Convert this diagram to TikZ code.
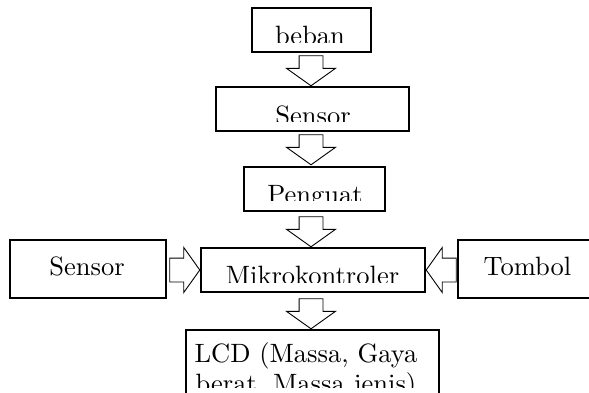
\documentclass[tikz,border=0pt]{standalone}
\usepackage{fontspec}
\newfontfamily\boxfont{lmroman10-regular.otf}
\usetikzlibrary{shapes.arrows}
\usetikzlibrary{positioning}
\begin{document}
\begin{tikzpicture}[x=1pt, y=-1pt,
  box/.style={draw, line width=1.3pt, inner sep=0pt, minimum height=44pt},
  text only/.style={inner sep=0pt, anchor=base, align=center, font=\boxfont\fontsize{26.5}{30}\selectfont},
  blockarrow/.style={draw, line width=0.9pt, single arrow, single arrow head extend=12.5pt,
    single arrow tip angle=109, inner xsep=0pt, inner ysep=11.5pt, minimum height=30pt}]
\useasboundingbox (0,0) rectangle (589,393);
\coordinate (axis) at (311,0);
% boxes
\node[box, minimum width=119pt] (beban) at (311.5,30) {};
\node[box, minimum width=193pt] (sensor) at (312.5,109) {};
\node[box, minimum width=141pt] (penguat) at (314.5,189) {};
\node[box, minimum width=224pt] (mikro) at (313,270) {};
\node[box, minimum width=156pt, minimum height=58pt] (sensor-in) at (88,269) {};
\node[box, minimum width=134pt, minimum height=58pt] (tombol) at (525,269) {};
\node[box, minimum width=253pt, minimum height=74pt] (lcd) at (312.5,367) {};
% labels, cut off at the bottom as in the figure
\foreach \name/\x/\y/\cut/\txt in {
    beban/310/45/10/beban,
    sensor/313/125/10/Sensor,
    penguat/315/203/11/Penguat,
    mikro/312.5/284/10/Mikrokontroler,
    lcd/306/392/17/{LCD (Massa, Gaya\\berat, Massa jenis)}} {
  \begin{scope}
    \clip (\name.north west) rectangle ([yshift=\cut pt]\name.south east);
    \node[text only] (\name-text) at (\x,\y) {\txt};
  \end{scope}
}
\node[text only] (sensor-in-text) at (87,275) {Sensor};
\node[text only] (tombol-text) at (527.5,275) {Tombol};
% arrows
\node[blockarrow, rotate=-90, anchor=tip] (a1) at (sensor.north -| axis) {};
\node[blockarrow, rotate=-90, anchor=tip] (a2) at ([yshift=1pt]penguat.north -| axis) {};
\node[blockarrow, rotate=-90, anchor=tip] (a3) at (mikro.north -| axis) {};
\node[blockarrow, rotate=-90, anchor=tip] (a4) at (lcd.north -| axis) {};
\node[blockarrow, single arrow head extend=10.5pt, anchor=tip] (a5) at (mikro.west) {};
\node[blockarrow, single arrow head extend=10.5pt, rotate=180, anchor=tip] (a6) at (mikro.east) {};
\end{tikzpicture}
\end{document}
